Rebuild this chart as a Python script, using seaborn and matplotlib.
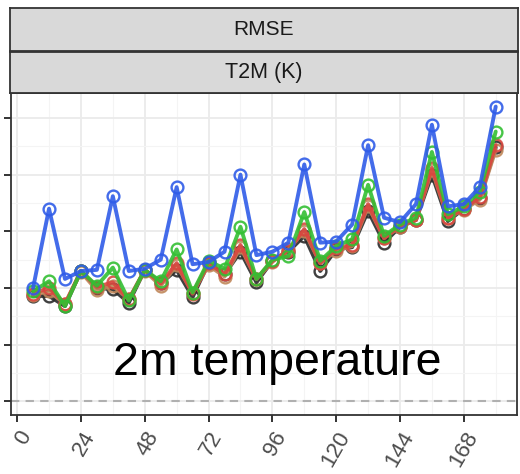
import numpy as np
import pandas as pd
import matplotlib
matplotlib.use("Agg")
import matplotlib.pyplot as plt
import seaborn as sns

# Forecast lead time (hours)
lead_hours = [6, 12, 18, 24, 30, 36, 42, 48, 54, 60, 66, 72, 78, 84, 90,
              96, 102, 108, 114, 120, 126, 132, 138, 144, 150, 156, 162, 168, 174, 180]

# T2M RMSE (K) per forecast system
rmse_blue = [1.00, 1.70, 1.08, 1.15, 1.16, 1.81, 1.15, 1.17, 1.25, 1.89,
             1.21, 1.23, 1.32, 2.00, 1.29, 1.32, 1.40, 2.09, 1.40, 1.41,
             1.56, 2.26, 1.62, 1.58, 1.74, 2.44, 1.72, 1.74, 1.89, 2.60]
rmse_green = [0.97, 1.06, 0.84, 1.15, 1.02, 1.18, 0.89, 1.16, 1.06, 1.34,
              0.96, 1.24, 1.17, 1.54, 1.08, 1.25, 1.28, 1.67, 1.24, 1.37,
              1.43, 1.91, 1.46, 1.56, 1.62, 2.20, 1.65, 1.72, 1.85, 2.38]
rmse_red = [0.95, 1.00, 0.86, 1.15, 1.01, 1.05, 0.90, 1.16, 1.04, 1.22,
            0.95, 1.22, 1.12, 1.38, 1.08, 1.24, 1.33, 1.52, 1.22, 1.35,
            1.38, 1.74, 1.44, 1.55, 1.60, 2.06, 1.62, 1.70, 1.80, 2.26]
rmse_black = [0.93, 0.93, 0.84, 1.15, 1.00, 0.99, 0.87, 1.16, 1.04, 1.16,
              0.92, 1.22, 1.12, 1.32, 1.05, 1.24, 1.32, 1.46, 1.15, 1.34,
              1.36, 1.68, 1.40, 1.54, 1.60, 2.00, 1.59, 1.70, 1.79, 2.24]
rmse_tan = [0.94, 0.97, 0.86, 1.14, 0.98, 1.02, 0.90, 1.15, 1.02, 1.20,
            0.96, 1.20, 1.10, 1.36, 1.08, 1.23, 1.34, 1.50, 1.22, 1.33,
            1.37, 1.72, 1.44, 1.54, 1.60, 2.04, 1.62, 1.69, 1.78, 2.22]

systems = ["sys_d", "sys_e", "sys_c", "sys_b", "sys_a"]
series = [rmse_black, rmse_tan, rmse_red, rmse_green, rmse_blue]
colors = ["#2b2b2b", "#c0875a", "#d9473f", "#33bf33", "#2f5ce8"]

x_ticks = [0, 24, 48, 72, 96, 120, 144, 168]
y_ticks = [0.0, 0.5, 1.0, 1.5, 2.0, 2.5]

df = pd.concat(
    [pd.DataFrame({"lead": lead_hours, "rmse": vals, "system": name})
     for name, vals in zip(systems, series)],
    ignore_index=True,
)

sns.set_theme(style="white")
plt.rcParams["font.family"] = ["Liberation Sans", "DejaVu Sans"]

W, H = 520, 474
fig = plt.figure(figsize=(W / 100, H / 100), dpi=100)
fig.patch.set_facecolor("white")


def box(x0, y0, x1, y1):
    return [x0 / W, 1 - y1 / H, (x1 - x0) / W, (y1 - y0) / H]


ax = fig.add_axes(box(11, 93, 517, 415))

# grid: major + minor, theme_bw-like
for xv in range(0, 190, 12):
    ax.axvline(xv, color="#ebebeb" if xv % 24 == 0 else "#f4f4f4",
               lw=1.3 if xv % 24 == 0 else 0.8, zorder=0)
for yv in np.arange(0, 2.76, 0.25):
    major = abs(yv * 2 - round(yv * 2)) < 1e-9
    ax.axhline(yv, color="#ebebeb" if major else "#f4f4f4",
               lw=1.3 if major else 0.8, zorder=0)

ax.axhline(0, color="#b0b0b0", lw=1.5, ls=(0, (4, 3)), zorder=1)

sns.lineplot(data=df, x="lead", y="rmse", hue="system", hue_order=systems,
             palette=dict(zip(systems, colors)), marker="o", markersize=8.5,
             linewidth=2.8, legend=False, ax=ax, zorder=3)

for line, c in zip(ax.lines[-len(systems):], colors):
    line.set_markerfacecolor("none")
    line.set_markeredgecolor(c)
    line.set_markeredgewidth(1.7)
    line.set_alpha(0.9)

ax.set_xlim(-2.3, 188)
ax.set_ylim(-0.12, 2.72)
ax.set_xticks(x_ticks)
ax.set_xticklabels([str(t) for t in x_ticks], rotation=60, ha="right",
                   va="top", rotation_mode="anchor", fontsize=16,
                   color="#4d4d4d")
ax.set_yticks(y_ticks)
ax.set_yticklabels([])
ax.tick_params(axis="both", length=5, width=1.4, color="#333333",
               direction="out", bottom=True, left=True, pad=4)
ax.set_xlabel("")
ax.set_ylabel("")
for sp in ax.spines.values():
    sp.set_visible(True)
    sp.set_color("#333333")
    sp.set_linewidth(1.3)
ax.grid(False)

ax.text(0.5337, 0.2089, "2m temperature", transform=fig.transFigure,
        ha="center", va="baseline", fontsize=33.5, color="black", zorder=5)

# facet strips
for (y0, y1, label, fs) in [(8, 51, "RMSE", 15), (52, 93, "T2M (K)", 15.5)]:
    sa = fig.add_axes(box(10, y0, 518, y1))
    sa.set_facecolor("#d9d9d9")
    sa.set_xticks([])
    sa.set_yticks([])
    for sp in sa.spines.values():
        sp.set_color("#333333")
        sp.set_linewidth(1.3)
    sa.text(0.5, 0.5, label, ha="center", va="center", fontsize=fs,
            color="#1a1a1a", transform=sa.transAxes)

fig.savefig("out.png", dpi=100)
